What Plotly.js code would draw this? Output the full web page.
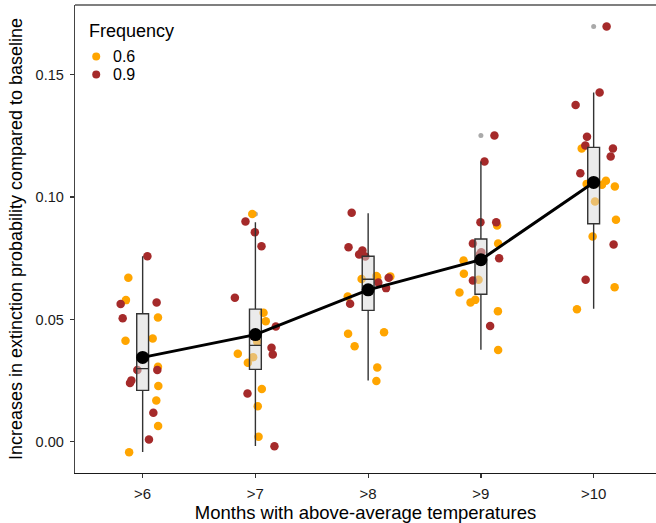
<!DOCTYPE html>
<html>
<head>
<meta charset="utf-8">
<script src="https://cdn.plot.ly/plotly-3.0.1.min.js"></script>
<style>
  html, body { margin: 0; padding: 0; background: #fff; overflow: hidden; }
  #chart { width: 656px; height: 523px; }
</style>
</head>
<body>
<div id="chart"></div>
<script>
// ---- Data ----
const categories = [">6", ">7", ">8", ">9", ">10"];
const freqLabels = ["0.6", "0.9"];

// Frequency 0.6: values and horizontal jitter (in category units), per category
const f06_values = [
  [0.0670, 0.0579, 0.0508, 0.0413, 0.0422, 0.0307, 0.0228, 0.0169, 0.0065, -0.0043],
  [0.0931, 0.0527, 0.0493, 0.0409, 0.0360, 0.0346, 0.0323, 0.0216, 0.0145, 0.0021],
  [0.0678, 0.0676, 0.0665, 0.0594, 0.0442, 0.0448, 0.0390, 0.0304, 0.0248, 0.0672],
  [0.0884, 0.0810, 0.0741, 0.0687, 0.0662, 0.0610, 0.0569, 0.0580, 0.0534, 0.0375],
  [0.1199, 0.1054, 0.1067, 0.1050, 0.1043, 0.0982, 0.0907, 0.0839, 0.0632, 0.0542]
];
const f06_jitter = [
  [-0.127, -0.148, 0.136, -0.152, 0.089, 0.136, 0.139, 0.121, 0.137, -0.120],
  [-0.028, 0.072, 0.092, 0.016, -0.156, -0.020, -0.067, 0.057, 0.021, 0.028],
  [0.073, 0.197, -0.058, -0.181, -0.178, 0.141, -0.120, 0.081, 0.073, 0.080],
  [0.144, 0.153, -0.154, -0.151, -0.021, -0.190, -0.092, -0.050, 0.151, 0.153],
  [-0.106, -0.062, 0.109, 0.074, 0.188, 0.012, 0.198, -0.009, 0.186, -0.148]
];
// Frequency 0.9
const f09_values = [
  [0.0758, 0.0563, 0.0569, 0.0505, 0.0293, 0.0293, 0.0240, 0.0251, 0.0119, 0.0009],
  [0.0900, 0.0856, 0.0799, 0.0589, 0.0471, 0.0432, 0.0384, 0.0357, 0.0197, -0.0018],
  [0.0936, 0.0795, 0.0782, 0.0765, 0.0757, 0.0670, 0.0651, 0.0628, 0.0564, 0.0768],
  [0.1252, 0.1145, 0.0897, 0.0897, 0.0810, 0.0775, 0.0750, 0.0659, 0.0473, 0.0765],
  [0.1697, 0.1427, 0.1376, 0.1247, 0.1211, 0.1199, 0.1166, 0.1097, 0.0806, 0.0662]
];
const f09_jitter = [
  [0.042, -0.195, 0.124, -0.177, 0.130, -0.047, -0.112, -0.100, 0.095, 0.056],
  [-0.088, -0.005, 0.054, -0.182, 0.181, -0.020, 0.143, 0.154, -0.070, 0.169],
  [-0.146, -0.174, -0.051, -0.080, -0.025, 0.182, 0.090, 0.159, -0.160, -0.065],
  [0.120, 0.032, -0.004, 0.136, -0.071, 0.003, 0.162, -0.071, 0.082, -0.010],
  [0.115, 0.053, -0.160, -0.059, -0.074, 0.171, 0.151, -0.118, 0.177, -0.071]
];

// Box summary statistics (all points combined)
const boxQ1     = [0.0210, 0.0296, 0.0537, 0.0603, 0.0891];
const boxMedian = [0.0299, 0.0394, 0.0664, 0.0742, 0.1060];
const boxQ3     = [0.0523, 0.0542, 0.0758, 0.0829, 0.1203];
const boxLower  = [-0.0042, -0.0017, 0.0251, 0.0376, 0.0544];
const boxUpper  = [0.0758, 0.0897, 0.0934, 0.1145, 0.1427];
const outlierCat   = [">7", ">9", ">10"];
const outlierValue = [0.0931, 0.1252, 0.1697];

// Means per category
const meanValues = [0.0345, 0.0438, 0.0621, 0.0744, 0.1060];

// ---- Styling ----
const COLORS = ["#FFA500", "#A52A2A"];
const FONT = "Liberation Sans, Arial, Helvetica, sans-serif";
const catIndex = categories.map((c, i) => i);

function flatten(valuesByCat, jitterByCat) {
  const xs = [], ys = [];
  valuesByCat.forEach((vals, ci) => {
    vals.forEach((v, j) => { xs.push(ci + jitterByCat[ci][j]); ys.push(v); });
  });
  return {xs, ys};
}
const p06 = flatten(f06_values, f06_jitter);
const p09 = flatten(f09_values, f09_jitter);

const traces = [
  {
    type: "scatter", mode: "markers", name: "outliers",
    x: outlierCat.map(c => categories.indexOf(c)), y: outlierValue,
    marker: {color: "rgba(140,140,140,0.75)", size: 5},
    xaxis: "x", yaxis: "y", hoverinfo: "skip"
  },
  {
    type: "scatter", mode: "markers", name: freqLabels[0],
    x: p06.xs, y: p06.ys,
    marker: {color: COLORS[0], size: 8.5},
    xaxis: "x", yaxis: "y"
  },
  {
    type: "scatter", mode: "markers", name: freqLabels[1],
    x: p09.xs, y: p09.ys,
    marker: {color: COLORS[1], size: 8.5},
    xaxis: "x", yaxis: "y"
  },
  {
    type: "box", name: "box",
    x: catIndex, q1: boxQ1, median: boxMedian, q3: boxQ3,
    lowerfence: boxLower, upperfence: boxUpper,
    boxpoints: false, whiskerwidth: 0, width: 0.105,
    fillcolor: "rgba(215,215,215,0.5)",
    line: {color: "#333333", width: 1.4},
    xaxis: "x2", yaxis: "y2"
  },
  {
    type: "scatter", mode: "lines+markers", name: "mean",
    x: catIndex, y: meanValues,
    line: {color: "#000000", width: 3},
    marker: {color: "#000000", size: 13},
    xaxis: "x2", yaxis: "y2"
  }
];

const XR = [-0.6, 4.553];
const YR = [-0.01275, 0.1785];

// manual legend placement helpers (paper coordinates)
const PL = 75.3, PR = 656, PT = 4.5, PB = 472.7;
const px2x = px => (px - PL) / (PR - PL);
const py2y = py => (PB - py) / (PB - PT);

const legendDotY = [56, 74];
const shapes = [
  {type: "line", xref: "paper", yref: "paper", x0: 0, x1: 1, y0: 1, y1: 1,
   line: {color: "#555555", width: 1.5}}
];
freqLabels.forEach((f, i) => {
  shapes.push({
    type: "circle", xref: "paper", yref: "paper",
    xsizemode: "pixel", ysizemode: "pixel",
    xanchor: px2x(96.5), yanchor: py2y(legendDotY[i]),
    x0: -4, x1: 4, y0: -4, y1: 4,
    fillcolor: COLORS[i], line: {width: 0}
  });
});
const annotations = [
  {text: "Frequency", xref: "paper", yref: "paper", x: px2x(87.5), y: py2y(30.5),
   xanchor: "left", yanchor: "middle", showarrow: false,
   font: {family: FONT, size: 18, color: "#000"}}
];
freqLabels.forEach((f, i) => {
  annotations.push({
    text: f, xref: "paper", yref: "paper", x: px2x(111.5), y: py2y(legendDotY[i] + 0.5),
    xanchor: "left", yanchor: "middle", showarrow: false,
    font: {family: FONT, size: 16, color: "#000"}
  });
});

const layout = {
  width: 656, height: 523,
  margin: {l: 75.3, r: 0, t: 4.5, b: 50.3, pad: 0},
  paper_bgcolor: "#ffffff", plot_bgcolor: "#ffffff",
  showlegend: false,
  font: {family: FONT, color: "#1a1a1a"},
  xaxis: {
    range: XR, type: "linear",
    tickvals: catIndex, ticktext: categories,
    showgrid: false, zeroline: false,
    showline: true, linecolor: "#1a1a1a", linewidth: 1.3,
    ticks: "outside", ticklen: 4, tickcolor: "#333", tickwidth: 1.2,
    tickfont: {family: FONT, size: 15, color: "#1a1a1a"},
    ticklabelstandoff: 3,
    title: {text: "Months with above-average temperatures", font: {family: FONT, size: 18.5, color: "#000"}, standoff: 0}
  },
  yaxis: {
    range: YR, type: "linear",
    tickvals: [0, 0.05, 0.10, 0.15], tickformat: ".2f",
    showgrid: false, zeroline: false,
    showline: true, linecolor: "#444", linewidth: 1.3,
    ticks: "outside", ticklen: 4, tickcolor: "#333", tickwidth: 1.2,
    tickfont: {family: FONT, size: 14.5, color: "#1a1a1a"},
    ticklabelstandoff: 3,
    title: {text: "Increases in extinction probability compared to baseline", font: {family: FONT, size: 18, color: "#000"}, standoff: 8}
  },
  xaxis2: {range: XR, overlaying: "x", visible: false, type: "linear"},
  yaxis2: {range: YR, overlaying: "y", visible: false, type: "linear"},
  shapes: shapes,
  annotations: annotations
};

Plotly.newPlot("chart", traces, layout, {staticPlot: true, displayModeBar: false});
</script>
</body>
</html>
